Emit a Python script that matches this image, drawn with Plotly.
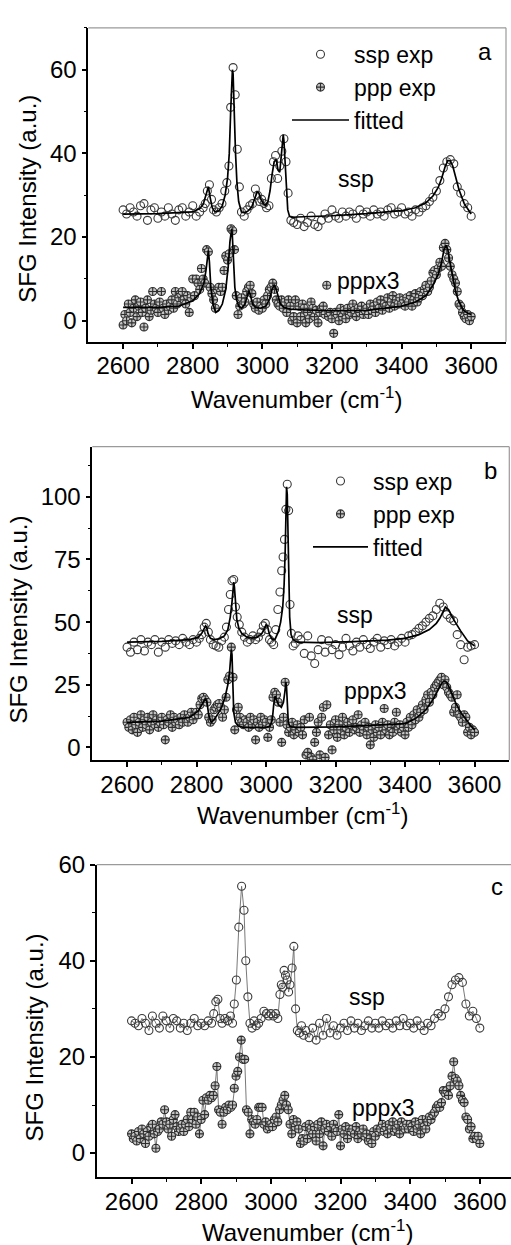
import plotly.graph_objects as go

W, H = 511, 1245
FONT = "Arial, Liberation Sans, Helvetica, sans-serif"

# ---------------- Panel a ----------------
A_SSP_X = [2600, 2610, 2620, 2630, 2640, 2650, 2660, 2670, 2680, 2690, 2700, 2710, 2720, 2730, 2740, 2750,
           2760, 2770, 2780, 2790, 2800, 2810, 2820, 2830,
           2836, 2842, 2848, 2854, 2860, 2868, 2876, 2884, 2892, 2898, 2904, 2909, 2916, 2922, 2928, 2934,
           2940, 2948, 2956, 2964, 2972, 2980, 2986, 2992, 2998, 3005, 3012, 3019, 3026, 3032, 3038, 3044,
           3050, 3056, 3062, 3068, 3074, 3082, 3090,
           3100, 3110, 3120, 3130, 3140, 3150, 3160, 3170, 3180, 3190, 3200, 3210, 3220, 3230, 3240, 3250,
           3260, 3270, 3280, 3290, 3300, 3310, 3320, 3330, 3340, 3350, 3360, 3370, 3380, 3390, 3400, 3410,
           3420, 3430, 3440, 3450, 3460, 3470, 3480, 3490, 3500, 3510, 3520, 3530, 3540, 3550, 3560, 3570,
           3580, 3590, 3600]
A_SSP_Y = [26.5, 25.5, 27, 26, 25, 27.5, 28, 24, 26.5, 27, 24.5, 26, 25, 27, 25.5, 24,
           26.5, 27, 25, 26, 27.5, 25, 26, 27,
           28, 31, 32.5, 29, 26.5, 26, 27, 28, 31, 33, 37, 51, 60.5, 54, 41, 32,
           26, 25, 26.5, 27.5, 28, 31.5, 30, 28.5, 29, 28, 27, 27.5, 34, 38, 39.5, 34,
           37, 40.5, 43.5, 38, 30.5, 24, 23.5,
           23, 24.5, 22.5, 23.5, 25, 23, 22.5, 24, 25.5, 24.5, 26.5, 25, 24.5, 26, 25, 26,
           25.5, 24.5, 26.5, 25.5, 26, 25, 26.5, 25.5, 26, 25, 26.5, 27, 25.5, 26, 27, 25.5,
           26, 25, 26.5, 26, 27, 27.5, 28.5, 29.5, 31, 33.5, 36.5, 38, 38.5, 37.5, 32, 30.5,
           28, 27, 25]

PPP_X = [2600, 2605, 2610, 2615, 2620, 2625, 2630, 2635, 2640, 2645, 2650, 2655, 2660, 2665, 2670, 2675, 2680, 2685, 2690, 2695,
         2700, 2705, 2710, 2715, 2720, 2725, 2730, 2735, 2740, 2745, 2750, 2755, 2760, 2765, 2770, 2775, 2780, 2785, 2790, 2795,
         2800, 2805, 2810, 2815, 2820, 2825, 2830, 2835, 2840, 2845, 2850, 2855, 2860, 2865, 2870, 2875, 2880, 2885, 2890, 2895,
         2900, 2905, 2910, 2915, 2920, 2925, 2930, 2935, 2940, 2945, 2950, 2955, 2960, 2965, 2970, 2975, 2980, 2985, 2990, 2995,
         3000, 3005, 3010, 3015, 3020, 3025, 3030, 3035, 3040, 3045, 3050, 3055, 3060, 3065, 3070, 3075, 3080, 3085, 3090, 3095,
         3100, 3105, 3110, 3115, 3120, 3125, 3130, 3135, 3140, 3145, 3150, 3155, 3160, 3165, 3170, 3175, 3180, 3185, 3190, 3195,
         3200, 3205, 3210, 3215, 3220, 3225, 3230, 3235, 3240, 3245, 3250, 3255, 3260, 3265, 3270, 3275, 3280, 3285, 3290, 3295,
         3300, 3305, 3310, 3315, 3320, 3325, 3330, 3335, 3340, 3345, 3350, 3355, 3360, 3365, 3370, 3375, 3380, 3385, 3390, 3395,
         3400, 3405, 3410, 3415, 3420, 3425, 3430, 3435, 3440, 3445, 3450, 3455, 3460, 3465, 3470, 3475, 3480, 3485, 3490, 3495,
         3500, 3505, 3510, 3515, 3520, 3525, 3530, 3535, 3540, 3545, 3550, 3555, 3560, 3565, 3570, 3575, 3580, 3585, 3590, 3595,
         3600]

A_PPP_Y = [-1, 1.5, 0, 4, 2, -0.5, 3, 5, 1, 3.5, 4.5, 2, -1.5, 3, 5, 1, 2.5, 7, 4, 3,
           2, 4.5, 7, 3, 1.5, 4, 2.5, 3.5, 5, 3, 7, 4, 5.5, 6.5, 7, 5, 4, 6, 2, 5.5,
           10, 6, 10, 9, 7.5, 12.5, 10, 9, 17, 16.5, 8, 6.5, 5, 3, 7.5, 8, 7, 8, 12, 15.5,
           14.5, 16, 22, 21.5, 17, 6, 1.5, 3.5, 5.5, 4, 4.5, 7, 8, 8.5, 6.5, 4, 3, 4.5, 2.5, 3.5,
           3, 5, 4, 6, 7.5, 8, 9, 7.5, 5, 4, 3.5, 5, 3, 4.5, 2, 5, 3.5, 0, 1, 5,
           -0.5, 3.5, 1, 4, 3, -0.5, 2, 0.5, 4.5, 3, 1, 2.5, -0.5, 2, 3, 3.5, 1.5, 8.5, 1, 2,
           0.5, -3, 2, 1.5, 0, 3, 1, 2.5, 0.5, 3, 1.5, 2, 4, 2.5, 1, 3, 2, 3.5, 1.5, 2.5,
           3, 1.5, 4, 2.5, 3.5, 2, 4.5, 3, 5, 2.5, 4, 3.5, 5.5, 3, 4.5, 6, 3.5, 5, 4, 5.5,
           4, 5, 3.5, 5.5, 4.5, 6, 3.5, 5, 6.5, 4.5, 5.5, 7, 6, 7.5, 8.5, 7, 8, 9.5, 11.5, 12,
           11, 12.5, 14, 13, 17.5, 18.5, 17, 15, 13, 11, 10, 9, 7, 4, 3.5, 2, 1, 0.5, 1.5, 0,
           1]

A_SSP_FIT_X = [2600, 2700, 2800, 2820, 2830, 2836, 2840, 2845, 2850, 2856, 2864, 2875, 2885, 2893, 2900, 2905,
               2909, 2912, 2914, 2916, 2918, 2920, 2923, 2927, 2932, 2940, 2950, 2960, 2970, 2978, 2985, 2990,
               2996, 3003, 3010, 3016, 3022, 3028, 3034, 3040, 3045, 3050, 3054, 3057, 3060, 3062, 3064, 3066,
               3069, 3073, 3078, 3085, 3100, 3200, 3300, 3400, 3440, 3470, 3490, 3505, 3515, 3525, 3533, 3540,
               3547, 3555, 3565, 3580, 3600]
A_SSP_FIT_Y = [25.5, 25.6, 26, 26.8, 27.8, 29.5, 31, 32, 29.5, 27, 26, 26.3, 27.5, 30, 34, 40,
               50, 58, 60, 59, 55, 48, 40, 33, 28.5, 26, 25.8, 26.3, 27.3, 29, 30.8, 30.5,
               29, 28, 27.5, 28.5, 31, 35, 38, 38.5, 36, 35.5, 38.5, 42, 44.5, 43, 40, 35,
               30, 26.5, 25, 24.7, 24.8, 25.1, 25.6, 26.3, 27, 28.2, 29.8, 31.8, 34, 36.8, 38.3, 38.2,
               37, 34.5, 31.3, 28, 25.5]

A_PPP_FIT_X = [2600, 2700, 2760, 2800, 2820, 2832, 2838, 2842, 2845, 2848, 2852, 2858, 2866, 2875, 2885, 2895,
               2902, 2907, 2910, 2912, 2914, 2917, 2921, 2926, 2932, 2940, 2950, 2957, 2962, 2966, 2972, 2980,
               2995, 3010, 3020, 3028, 3034, 3038, 3044, 3052, 3062, 3080, 3120, 3200, 3300, 3400, 3440, 3470,
               3490, 3505, 3515, 3522, 3528, 3533, 3538, 3545, 3555, 3565, 3578, 3590, 3600]
A_PPP_FIT_Y = [3.2, 3.2, 3.5, 4.8, 6.5, 9, 12, 15.5, 16.8, 14, 8, 4, 2, 2.5, 4, 7.5,
               13, 19, 21.5, 22, 20, 14, 8, 5, 3.5, 3, 4, 6, 7.2, 6, 4, 3.2,
               3, 3.5, 5, 7.5, 8.5, 8, 6, 4, 3.2, 2.8, 2.6, 2.4, 2.5, 3.5, 4.5, 6,
               8.5, 11, 14, 17, 18, 17, 14.5, 11, 7, 4.5, 2.5, 1.8, 1.5]

# ---------------- Panel b ----------------
B_SSP_X = [2600, 2610, 2620, 2630, 2640, 2650, 2660, 2670, 2680, 2690, 2700, 2710, 2720, 2730, 2740, 2750,
           2760, 2770, 2780, 2790, 2800,
           2808, 2815, 2822, 2828, 2834, 2840, 2848, 2856, 2864, 2872, 2880, 2886, 2892, 2897, 2902, 2907,
           2912, 2917, 2923, 2930, 2938, 2946, 2954, 2962, 2970, 2978, 2986, 2992, 2998, 3004, 3010, 3016,
           3022, 3028, 3034, 3040, 3045, 3049, 3053, 3057, 3061, 3065, 3069, 3073, 3078, 3084, 3092,
           3100, 3110, 3120, 3130, 3140, 3150, 3160, 3170, 3180, 3190, 3200, 3210, 3220, 3230, 3240, 3250,
           3260, 3270, 3280, 3290, 3300, 3310, 3320, 3330, 3340, 3350, 3360, 3370, 3380, 3390, 3400, 3410,
           3420, 3430, 3440, 3450, 3460, 3470, 3480, 3490, 3500, 3510, 3520, 3530, 3540, 3550, 3560, 3570,
           3580, 3590, 3600]
B_SSP_Y = [40, 38, 42, 39, 43, 38.5, 42, 41, 43, 38, 42, 40, 43, 41.5, 42.5, 41,
           43.5, 42, 41, 43, 42,
           43.5, 45, 48, 49.5, 46, 43, 41, 40.5, 40, 42.5, 44, 48, 55, 61, 66.5, 67,
           56, 52, 49, 46, 44, 42, 43, 44.5, 43, 44, 46, 48.5, 49.5, 47, 43, 42,
           41, 47, 55, 62, 70.5, 76, 83, 95, 105, 94.5, 57, 45.5, 40.5, 41.5, 44.5,
           43, 37.5, 44.5, 36.5, 33.5, 39, 43, 38, 42.5, 39, 41, 37, 40, 43.5, 40.5, 38.5,
           42, 40, 43, 41, 39.5, 42, 43.5, 40, 42.5, 41, 43, 40.5, 42, 43.5, 42, 44.5,
           45, 46, 47.5, 48.5, 50, 51.5, 52.5, 55, 57.5, 56, 53, 51.5, 50.5, 45, 41, 35,
           40, 40.5, 41]

B_PPP_Y = [10, 8, 11, 7, 12, 9, 6, 10, 13, 8, 11, 9, 12, 7, 10, 13, 9, 11, 8, 10,
           12, 9, 3, 11, 10, 13, 8, 12, 10, 11, 9, 12, 10, 13, 11, 10, 12, 14, 11, 13,
           14, 13, 17, 19.5, 20, 19, 18, 12, 10, 11, 15, 16, 17, 17.5, 16, 12, 15, 20, 27, 28.5,
           40, 28, 7, 15, 16, 12, 10, 9, 11, 10, 8, 12, 9, 11, 3, 10, 8, 12, 9, 11,
           10, 4, 8, 11, 20, 22, 21, 18, 10, 2, 12, 26, 9, 6, 8, 10, 5, 7, 9, 6,
           8, 5, 11, -3, -2, 12, -4, -5, 2, 6, 10, -3, 12, 16, -4, 17, 5, 9, -1, 7,
           11, 4, 9, 7, 12, 5, 8, 10, 6, 9, 11, 7, 8, 13, 6, 9, 7, 10, 5, 8,
           1, 7, 4, 9, 6, 8, 5, 10, 15.5, 7, 9, 5, 8, 6, 10, 14, 7, 9, 6, 8,
           5, 10, 8, 12, 9, 13, 11, 15, 12, 14, 17, 15, 19, 21, 18, 22, 21, 24, 25, 26,
           27, 28, 25, 27, 24, 22, 21, 20, 14, 16, 21, 13, 12, 10, 13, 12, 6, 8, 5, 7,
           6]

B_SSP_FIT_X = [2600, 2700, 2780, 2805, 2815, 2822, 2826, 2829, 2833, 2840, 2850, 2865, 2880, 2890, 2897, 2902,
               2905, 2907, 2909, 2912, 2916, 2922, 2930, 2945, 2960, 2975, 2988, 2996, 3000, 3004, 3010, 3018,
               3026, 3035, 3042, 3048, 3052, 3055, 3057, 3059, 3061, 3063, 3065, 3068, 3072, 3078, 3090, 3150,
               3250, 3350, 3400, 3440, 3470, 3490, 3500, 3508, 3516, 3525, 3540, 3560, 3580, 3600]
B_SSP_FIT_Y = [42, 42.3, 43, 44, 45.5, 47.5, 48.5, 48, 45.5, 43.5, 43, 43.3, 44.5, 47, 52, 58,
               64, 66, 64, 57, 51, 47.5, 45.5, 44, 43.6, 44, 45.5, 47.5, 49, 48.5, 45, 43,
               43.2, 46, 50, 56, 65, 78, 93, 104, 101, 86, 68, 52, 45, 43, 42, 41.8,
               42.2, 42.8, 43.5, 45, 47, 49.5, 51.5, 54, 56, 55, 51, 46.5, 42.5, 40.5]

B_PPP_FIT_X = [2600, 2700, 2780, 2805, 2815, 2822, 2826, 2830, 2835, 2842, 2850, 2860, 2872, 2882, 2890, 2895,
               2898, 2900, 2902, 2904, 2907, 2912, 2920, 2935, 2960, 3000, 3012, 3018, 3022, 3026, 3030, 3036,
               3044, 3050, 3054, 3057, 3059, 3061, 3064, 3068, 3075, 3090, 3200, 3300, 3400, 3430, 3460, 3480,
               3495, 3505, 3512, 3520, 3530, 3545, 3560, 3575, 3590, 3600]
B_PPP_FIT_Y = [10, 10.5, 12, 14.5, 17, 19, 19.5, 18, 13, 10, 11, 13, 16, 20, 25, 30,
               35, 39, 37, 25, 14, 10, 8.5, 8, 8, 8, 8.5, 11, 17, 20.5, 19, 17,
               16, 18, 22, 26, 24, 15, 10, 8.5, 8.2, 8, 8.2, 8.8, 9.5, 11.5, 15, 19,
               23, 25.5, 26.5, 26, 23, 18, 14, 11, 8.5, 7]

# ---------------- Panel c ----------------
C_SSP_X = [2600, 2610, 2620, 2630, 2640, 2650, 2660, 2670, 2680, 2690, 2700, 2710, 2720, 2730, 2740, 2750,
           2760, 2770, 2780, 2790, 2800, 2810, 2820, 2830,
           2836, 2842, 2848, 2854, 2860, 2868, 2876, 2884, 2890, 2895, 2901, 2908, 2916, 2923, 2928, 2934,
           2940, 2946, 2952, 2958, 2965, 2972, 2980, 2987, 2994, 3000, 3007, 3014, 3020, 3026, 3030, 3034,
           3038, 3042, 3047, 3051, 3055, 3061, 3066, 3071, 3076, 3082, 3088, 3094,
           3100, 3110, 3120, 3130, 3140, 3150, 3160, 3170, 3180, 3190, 3200, 3210, 3220, 3230, 3240, 3250,
           3260, 3270, 3280, 3290, 3300, 3310, 3320, 3330, 3340, 3350, 3360, 3370, 3380, 3390, 3400, 3410,
           3420, 3430, 3440, 3450, 3460, 3470, 3480, 3490, 3500, 3510, 3520, 3530, 3540, 3550, 3560, 3570,
           3580, 3590, 3600]
C_SSP_Y = [27.5, 27, 26.5, 28, 27, 25.5, 28.5, 27, 26, 28.5, 27.5, 26, 28, 27.5, 26, 27,
           25.5, 27, 28, 26.5, 27, 26.5, 27.5, 27,
           29, 31.5, 32, 28, 27, 28, 27.5, 28.5, 27, 31, 36, 47, 55.5, 50.5, 40, 32.5,
           27, 26, 27.5, 26.5, 27, 28, 29.5, 29, 28.5, 29, 28.5, 29, 28, 33, 35, 34.5,
           38, 37, 36, 33.5, 35, 38.5, 43, 30, 25.5, 25, 26.5, 24.5,
           25.5, 24, 26, 23.5, 27, 24.5, 28, 25, 26.5, 24.5, 26, 27, 25.5, 27.5, 26, 27,
           25.5, 26.5, 27.5, 26, 27, 26, 27.5, 26.5, 27, 26, 27.5, 26.5, 28, 26.5, 27, 26,
           27.5, 26.5, 25.5, 27, 26.5, 28, 29, 28.5, 30, 32.5, 35, 36, 36.5, 35.5, 31, 28.5,
           29.5, 28, 26]

C_PPP_Y = [4, 3, 3.5, 2.5, 4.5, 3, 5, 4, 2, 4.5, 3.5, 5.5, 6, 4, 1, 4.5, 5, 6.5, 6, 9,
           6.5, 5, 6, 3.5, 7, 8, 5.5, 4.5, 5, 6, 4.5, 6, 7, 5.5, 8.5, 7, 8.5, 6, 7.5, 4,
           7, 11, 8, 11.5, 11, 12, 11.5, 12, 14, 18, 9, 8.5, 6, 8.5, 9.5, 9, 10, 9.5, 10, 13.5,
           16, 17, 20, 23.5, 19.5, 19.5, 9, 8.5, 4, 7, 6.5, 6, 7, 9.5, 9.5, 9.5, 6, 6.5, 5, 5.5,
           6, 5.5, 7, 7.5, 6.5, 9, 10, 11, 12, 10, 9, 6, 4, 7, 5.5, 6.5, 5, 2, 3, 2.5,
           5.5, 3, 6, 5, 4, 5.5, 2.5, 6, 4, 6.5, 1.5, 5, 6, 4.5, 5.5, 3.5, 6, 5, 4.5, 8,
           1.5, 5, 4, 5.5, 3, 5, 4.5, 5, 4, 5.5, 3, 4.5, 4, 5, 3.5, 4, 2.5, 3, 2, 4.5,
           3.5, 5, 4.5, 5, 6, 4.5, 5.5, 4, 6, 5, 6.5, 4.5, 5, 6, 4, 6.5, 5.5, 5, 6, 5,
           6, 5.5, 4.5, 6.5, 5, 6, 4, 7, 5.5, 5, 6.5, 7.5, 7, 8, 8.5, 9.5, 10, 9.5, 10.5, 13,
           12.5, 13, 12, 14, 16, 19, 15.5, 15, 14, 12, 11, 10.5, 7.5, 7, 5, 5.5, 3, 3.5, 3, 3.5,
           2]

X_TICKS = [2600, 2800, 3000, 3200, 3400, 3600]
X_MINOR = [2700, 2900, 3100, 3300, 3500]
X_TITLE = "Wavenumber (cm<sup>-1</sup>)"
Y_TITLE = "SFG Intensity (a.u.)"

# ---------------- Layout geometry (pixels) ----------------
PANELS = [
    dict(ax="", left=88.3, right=506.0, top=14.0, bottom=331.7, xr=[2500, 3700], yr=[-5, 70],
         dy=20, mdy=10, rline=True, label="a", lab_xy=(485, 38),
         ssp_xy=(356, 167), ppp_xy=(368, 270), ytitle_xy=(28, 187), xtitle_xy=(296, 389)),
    dict(ax="2", left=92.3, right=509.3, top=438.0, bottom=755.0, xr=[2500, 3700], yr=[-5, 120],
         dy=25, mdy=12.5, rline=True, label="b", lab_xy=(490, 462),
         ssp_xy=(355, 608), ppp_xy=(375, 685), ytitle_xy=(19, 613), xtitle_xy=(302, 810)),
    dict(ax="3", left=96.7, right=511.0, top=861.0, bottom=1177.3, xr=[2500, 2500 + (511 - 96.7) / 0.3483],
         yr=[-5, 60], dy=20, mdy=10, rline=False, label="c", lab_xy=(497, 883),
         ssp_xy=(367, 995), ppp_xy=(383, 1107), ytitle_xy=(35, 1036), xtitle_xy=(307, 1232)),
]

fig = go.Figure()

SSP_MARK = dict(symbol="circle-open", size=8, color="#3a3a3a", line=dict(width=1.1))
PPP_MARK = dict(symbol="circle-cross", size=8, color="#c4c4c4", line=dict(color="#2e2e2e", width=1.1))
FIT_LINE = dict(color="black", width=1.7)

# panel a
fig.add_trace(go.Scatter(x=A_SSP_X, y=A_SSP_Y, mode="markers", marker=SSP_MARK, name="ssp exp",
                         xaxis="x", yaxis="y", legend="legend"))
fig.add_trace(go.Scatter(x=PPP_X, y=A_PPP_Y, mode="markers", marker=PPP_MARK, name="ppp exp",
                         xaxis="x", yaxis="y", legend="legend"))
fig.add_trace(go.Scatter(x=A_SSP_FIT_X, y=A_SSP_FIT_Y, mode="lines", line=FIT_LINE, name="fitted",
                         xaxis="x", yaxis="y", legend="legend"))
fig.add_trace(go.Scatter(x=A_PPP_FIT_X, y=A_PPP_FIT_Y, mode="lines", line=FIT_LINE, name="fitted",
                         xaxis="x", yaxis="y", showlegend=False))
# panel b
fig.add_trace(go.Scatter(x=B_SSP_X, y=B_SSP_Y, mode="markers", marker=SSP_MARK, name="ssp exp",
                         xaxis="x2", yaxis="y2", legend="legend2"))
fig.add_trace(go.Scatter(x=PPP_X, y=B_PPP_Y, mode="markers", marker=PPP_MARK, name="ppp exp",
                         xaxis="x2", yaxis="y2", legend="legend2"))
fig.add_trace(go.Scatter(x=B_SSP_FIT_X, y=B_SSP_FIT_Y, mode="lines", line=FIT_LINE, name="fitted",
                         xaxis="x2", yaxis="y2", legend="legend2"))
fig.add_trace(go.Scatter(x=B_PPP_FIT_X, y=B_PPP_FIT_Y, mode="lines", line=FIT_LINE, name="fitted",
                         xaxis="x2", yaxis="y2", showlegend=False))
# panel c
fig.add_trace(go.Scatter(x=C_SSP_X, y=C_SSP_Y, mode="lines+markers", marker=SSP_MARK,
                         line=dict(color="#6a6a6a", width=0.9), xaxis="x3", yaxis="y3", showlegend=False))
fig.add_trace(go.Scatter(x=PPP_X, y=C_PPP_Y, mode="lines+markers", marker=PPP_MARK,
                         line=dict(color="#6a6a6a", width=0.9), xaxis="x3", yaxis="y3", showlegend=False))

layout = dict(width=W, height=H, margin=dict(l=0, r=0, t=0, b=0), paper_bgcolor="white",
              plot_bgcolor="white", font=dict(family=FONT, size=24, color="black"))
annotations = []
shapes = []
for p in PANELS:
    xa = "xaxis" + p["ax"]
    ya = "yaxis" + p["ax"]
    xid = "x" + p["ax"]
    yid = "y" + p["ax"]
    layout[xa] = dict(domain=[p["left"] / W, min(1.0, p["right"] / W)], range=p["xr"], anchor=yid,
                      tickmode="array", tickvals=X_TICKS, ticks="outside", ticklen=5, tickwidth=1.5,
                      tickcolor="black", showline=True, linecolor="black", linewidth=1.6,
                      showgrid=False, zeroline=False, tickfont=dict(size=24), ticklabelstandoff=-3,
                      minor=dict(ticks="outside", ticklen=3, tickwidth=1.3, tickcolor="black",
                                 tickmode="array", tickvals=X_MINOR))
    layout[ya] = dict(domain=[1 - p["bottom"] / H, 1 - p["top"] / H], range=p["yr"], anchor=xid,
                      tick0=0, dtick=p["dy"], ticks="outside", ticklen=5, tickwidth=1.5,
                      tickcolor="black", showline=True, linecolor="black", linewidth=1.6,
                      showgrid=False, zeroline=False, tickfont=dict(size=24),
                      minor=dict(ticks="outside", ticklen=3, tickwidth=1.3, tickcolor="black",
                                 tick0=p["mdy"], dtick=p["dy"]))
    # top and right frame lines (gray)
    shapes.append(dict(type="line", xref=xid + " domain", yref=yid + " domain", x0=0, x1=1, y0=1, y1=1,
                       line=dict(color="#9a9a9a", width=1.2)))
    if p["rline"]:
        shapes.append(dict(type="line", xref=xid + " domain", yref=yid + " domain", x0=1, x1=1, y0=0, y1=1,
                           line=dict(color="#9a9a9a", width=1.2)))

    def ann(text, xy, size=24, angle=0):
        annotations.append(dict(text=text, x=xy[0] / W, y=1 - xy[1] / H, xref="paper", yref="paper",
                                xanchor="center", yanchor="middle", showarrow=False, textangle=angle,
                                font=dict(size=size, family=FONT, color="black")))
    ann(p["label"], p["lab_xy"])
    ann("ssp", p["ssp_xy"], 23)
    ann("pppx3", p["ppp_xy"], 23)
    ann(Y_TITLE, p["ytitle_xy"], 24, -90)
    ann(X_TITLE, p["xtitle_xy"], 24)

layout["annotations"] = annotations
layout["shapes"] = shapes
layout["legend"] = dict(x=287 / W, y=1 - 19 / H, xanchor="left", yanchor="top", itemwidth=57,
                        bgcolor="rgba(0,0,0,0)", font=dict(size=23, family=FONT), tracegroupgap=0)
layout["legend2"] = dict(x=308 / W, y=1 - 451 / H, xanchor="left", yanchor="top", itemwidth=55,
                         bgcolor="rgba(0,0,0,0)", font=dict(size=23, family=FONT), tracegroupgap=0)
layout["showlegend"] = True
fig.update_layout(**layout)

fig.write_html("out.html")
